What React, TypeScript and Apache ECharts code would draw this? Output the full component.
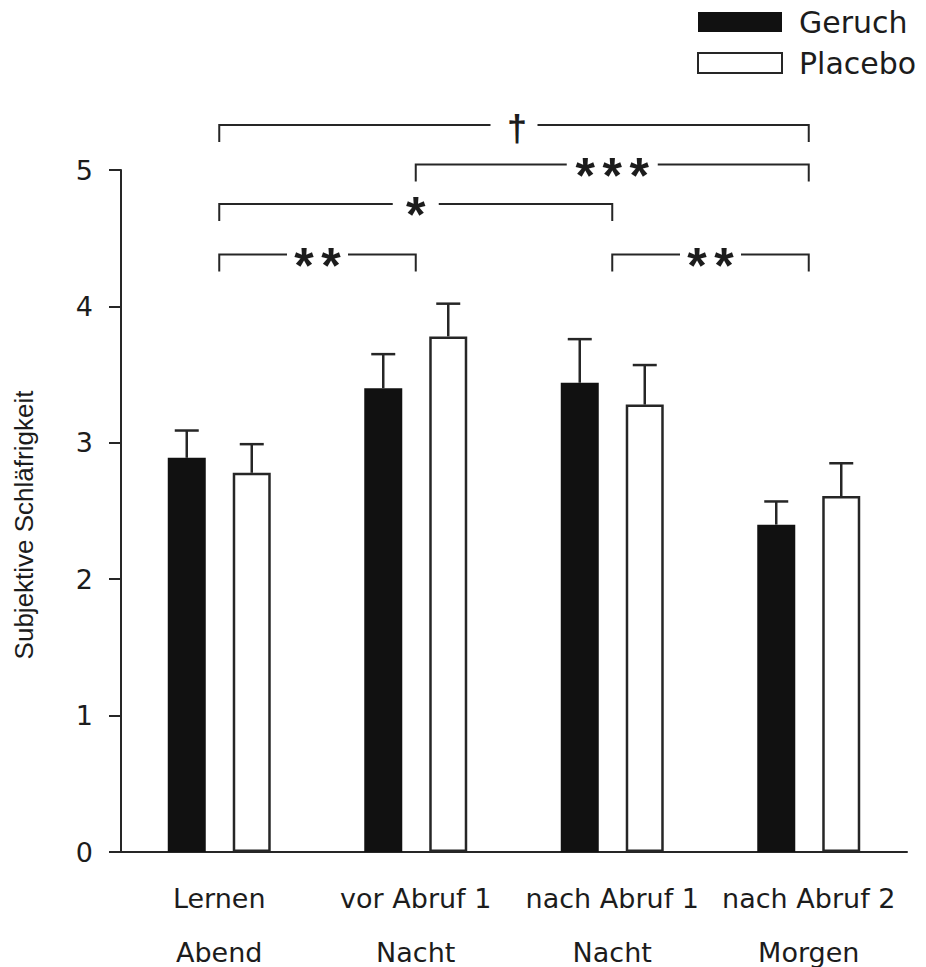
import React, { useEffect, useRef } from "react";
import * as echarts from "echarts";

// ---- data ----
const categories = ["Lernen", "vor Abruf 1", "nach Abruf 1", "nach Abruf 2"];
const periods = ["Abend", "Nacht", "Nacht", "Morgen"];
const geruchMean = [2.89, 3.40, 3.44, 2.40];
const geruchSem = [0.20, 0.25, 0.32, 0.17];
const placeboMean = [2.78, 3.78, 3.28, 2.61];
const placeboSem = [0.21, 0.24, 0.29, 0.24];
const yTicks = [0, 1, 2, 3, 4, 5];

// significance brackets
const bracketFrom = [0, 1, 0, 0, 2];
const bracketTo = [3, 3, 2, 1, 3];
const bracketLevel = [5.33, 5.04, 4.75, 4.38, 4.38];
const bracketLabel = ["†", "***", "*", "**", "**"];

// ---- styles ----
const INK = "#1c1c1c";
const LINE = "#262626";
const BAR_W = 38;
const BAR_OFFSET = 32.5;
const GAP: Record<string, number> = { "†": 47, "*": 46, "**": 61, "***": 91 };
const DROP = 17;

export default function App() {
  const ref = useRef<HTMLDivElement>(null);
  useEffect(() => {
    if (!ref.current) return;
    const chart = echarts.init(ref.current, null, { renderer: "svg" });

    const errSeries = (name: string, mean: number[], sem: number[], off: number) => ({
      name,
      type: "custom",
      clip: false,
      z: 5,
      encode: { x: 0, y: 1 },
      data: mean.map((m, i) => [i, m, sem[i]]),
      renderItem: (params: any, api: any) => {
        const i = api.value(0);
        const m = api.value(1);
        const s = api.value(2);
        const b = api.coord([i, m]);
        const t = api.coord([i, m + s]);
        const x = b[0] + off;
        const st = { stroke: LINE, lineWidth: 2.5 };
        return {
          type: "group",
          children: [
            { type: "line", shape: { x1: x, y1: b[1], x2: x, y2: t[1] }, style: st },
            { type: "line", shape: { x1: x - 12, y1: t[1], x2: x + 12, y2: t[1] }, style: st },
          ],
        };
      },
    });

    const option: any = {
      animation: false,
      grid: { left: 121, top: 170, width: 786, height: 682, containLabel: false, outerBoundsMode: "none" },
      legend: {
        data: ["Geruch", "Placebo"],
        orient: "vertical",
        left: 697,
        top: 7,
        itemWidth: 84,
        itemHeight: 20,
        itemGap: 11,
        icon: "rect",
        padding: 0,
        textStyle: {
          fontFamily: "DejaVu Sans",
          fontSize: 30,
          color: INK,
          lineHeight: 20,
          padding: [0, 0, 0, 12],
        },
      },
      xAxis: {
        type: "category",
        data: categories,
        axisLine: { lineStyle: { color: LINE, width: 2 } },
        axisTick: { alignWithLabel: true, length: 10, lineStyle: { color: LINE, width: 2 } },
        axisLabel: {
          interval: 0,
          margin: 19,
          fontFamily: "DejaVu Sans",
          fontSize: 27,
          color: INK,
          lineHeight: 54,
          formatter: (v: string, i: number) => `${v}\n${periods[i]}`,
        },
      },
      yAxis: {
        type: "value",
        min: 0,
        max: 5,
        interval: 1,
        splitLine: { show: false },
        axisLine: { show: true, lineStyle: { color: LINE, width: 2 } },
        axisTick: { show: true, length: 12, lineStyle: { color: LINE, width: 2 } },
        axisLabel: {
          margin: 28,
          fontFamily: "DejaVu Sans",
          fontSize: 27,
          color: INK,
          formatter: (v: number) => (yTicks.includes(v) ? String(v) : ""),
        },
        name: "Subjektive Schläfrigkeit",
        nameLocation: "middle",
        nameRotate: 90,
        nameGap: 84,
        nameTextStyle: {
          fontFamily: "Liberation Sans",
          fontSize: 26,
          color: INK,
          padding: [0, 28, 0, 0],
        },
      },
      series: [
        {
          name: "Geruch",
          type: "bar",
          data: geruchMean,
          barWidth: BAR_W,
          barGap: "71%",
          itemStyle: { color: "#111111" },
        },
        {
          name: "Placebo",
          type: "bar",
          data: placeboMean,
          barWidth: BAR_W,
          barGap: "71%",
          itemStyle: { color: "#ffffff", borderColor: LINE, borderWidth: 2.5 },
        },
        errSeries("Geruch SEM", geruchMean, geruchSem, -BAR_OFFSET),
        errSeries("Placebo SEM", placeboMean, placeboSem, BAR_OFFSET),
        {
          name: "Signifikanz",
          type: "custom",
          clip: false,
          z: 6,
          encode: { x: 0, y: 1 },
          data: bracketFrom.map((f, i) => [f, bracketLevel[i], bracketTo[i]]),
          renderItem: (params: any, api: any) => {
            const idx = params.dataIndex;
            const lvl = api.value(1);
            const p1 = api.coord([api.value(0), lvl]);
            const p2 = api.coord([api.value(2), lvl]);
            const y = p1[1];
            const mid = (p1[0] + p2[0]) / 2;
            const label = bracketLabel[idx];
            const gap = GAP[label] ?? 50;
            const st = { stroke: LINE, lineWidth: 2, fill: "none" };
            const children: any[] = [
              { type: "polyline", shape: { points: [[p1[0], y + DROP], [p1[0], y], [mid - gap / 2, y]] }, style: st },
              { type: "polyline", shape: { points: [[mid + gap / 2, y], [p2[0], y], [p2[0], y + DROP]] }, style: st },
            ];
            if (label === "†") {
              children.push({
                type: "text",
                x: mid + 3,
                y: y + 4,
                style: { text: "†", fontFamily: "Liberation Sans", fontWeight: "bold", fontSize: 36, fill: INK, align: "center", verticalAlign: "middle" },
              });
            } else {
              const n = label.length;
              for (let k = 0; k < n; k++) {
                children.push({
                  type: "text",
                  x: mid + (k - (n - 1) / 2) * 27,
                  y: y + 11,
                  style: {
                    text: "*",
                    fontFamily: "Liberation Sans",
                    fontWeight: "bold",
                    fontSize: 50,
                    fill: INK,
                    align: "center",
                    verticalAlign: "middle",
                  },
                });
              }
            }
            return { type: "group", children };
          },
        },
      ],
    };
    chart.setOption(option);
    return () => chart.dispose();
  }, []);
  return (
    <div
      ref={ref}
      style={{ position: "absolute", left: 0, top: 0, width: 926, height: 967, background: "#fff" }}
    />
  );
}
